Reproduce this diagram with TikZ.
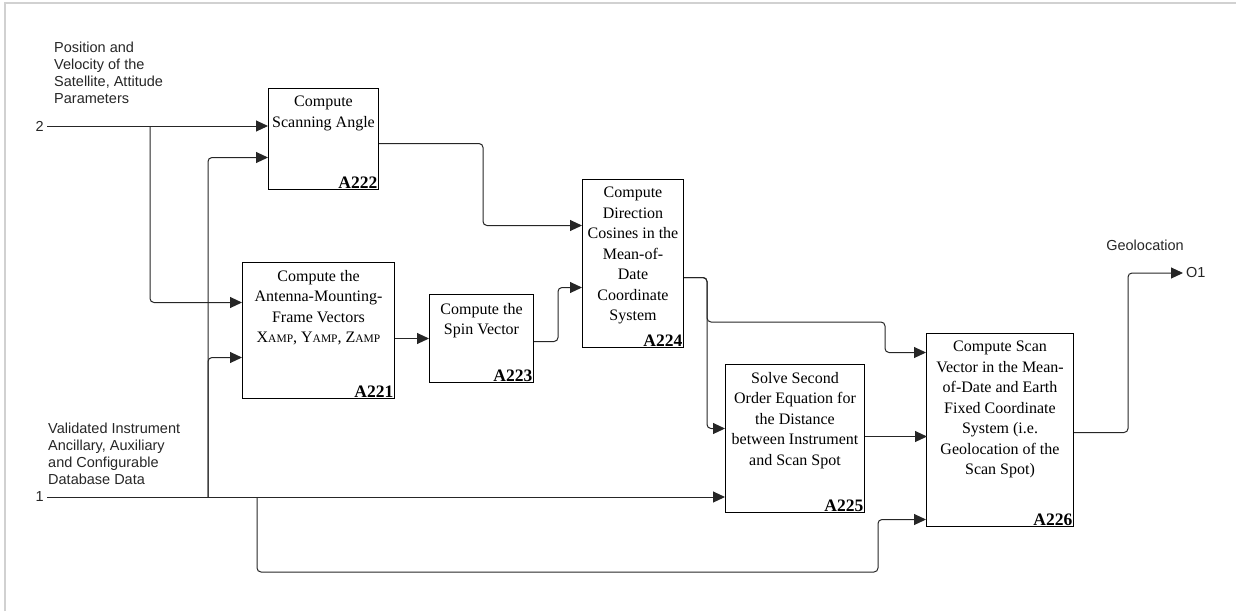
\documentclass[tikz,border=0pt]{standalone}
\usepackage{fontspec}
\setmainfont{Liberation Serif}
\newfontfamily\labelfont{Liberation Sans}
\usetikzlibrary{arrows.meta}
% small capitals for the frame vector subscripts
\newcommand\smallcapsamp[1]{{\fontsize{11.5}{11.5}\selectfont #1}}
\begin{document}
\begin{tikzpicture}[x=1pt,y=-1pt,
  box/.style={draw=black, line width=1pt, anchor=north west, inner sep=0pt},
  btext/.style={anchor=north, align=center, inner sep=0pt, font=\fontsize{16}{20.5}\selectfont},
  blabel/.style={anchor=south east, inner sep=1.5pt, font=\fontsize{17.5}{17.5}\selectfont\bfseries},
  side/.style={align=left, inner sep=0pt, anchor=north west, text=black!85, font=\labelfont\fontsize{14.5}{17}\selectfont},
  flow/.style={draw=black!85, line width=1pt, rounded corners=4pt, -{Triangle[length=12pt,width=11pt]}}
]
\useasboundingbox (0,0) rectangle (1236,611);
% page frame
\draw[black!18, line width=1.2pt] (5,611) -- (5,3) -- (1236,3);

% activity boxes
\node[box, minimum width=110pt, minimum height=101pt] (a222) at (268,88) {};
\node[box, minimum width=152pt, minimum height=136pt] (a221) at (242,262) {};
\node[box, minimum width=104pt, minimum height=88pt]  (a223) at (429,294) {};
\node[box, minimum width=101pt, minimum height=168pt] (a224) at (582,179) {};
\node[box, minimum width=139pt, minimum height=148pt] (a225) at (725,364) {};
\node[box, minimum width=147pt, minimum height=193pt] (a226) at (926,333) {};

% box texts
\node[btext] (a222t) at ([yshift=-8pt]a222.north) {Compute\\Scanning Angle};
\node[btext] (a221t) at ([yshift=-8pt]a221.north) {Compute the\\Antenna-Mounting-\\Frame Vectors\\X\smallcapsamp{AMP}, Y\smallcapsamp{AMP}, Z\smallcapsamp{AMP}};
\node[btext] (a223t) at ([yshift=-9pt]a223.north) {Compute the\\Spin Vector};
\node[btext] (a224t) at ([yshift=-8pt]a224.north) {Compute\\Direction\\Cosines in the\\Mean-of-\\Date\\Coordinate\\System};
\node[btext] (a225t) at ([yshift=-8pt]a225.north) {Solve Second\\Order Equation for\\the Distance\\between Instrument\\and Scan Spot};
\node[btext] (a226t) at ([yshift=-8pt]a226.north) {Compute Scan\\Vector in the Mean-\\of-Date and Earth\\Fixed Coordinate\\System (i.e.\\Geolocation of the\\Scan Spot)};

% box numbers
\node[blabel] (a222n) at (a222.south east) {A222};
\node[blabel] (a221n) at (a221.south east) {A221};
\node[blabel] (a223n) at (a223.south east) {A223};
\node[blabel] (a224n) at (a224.south east) {A224};
\node[blabel] (a225n) at (a225.south east) {A225};
\node[blabel] (a226n) at (a226.south east) {A226};

% inputs and output labels
\node[side] (lab2) at (54,42) {Position and\\Velocity of the\\Satellite, Attitude\\Parameters};
\node[side] (lab1) at (48,422.5) {Validated Instrument\\Ancillary, Auxiliary\\and Configurable\\Database Data};
\node[side, anchor=east] (in2) at (44,126) {2};
\node[side, anchor=east] (in1) at (44,497) {1};
\node[side, anchor=center] (geo) at (1145,245) {Geolocation};
\node[side, anchor=west] (o1) at (1186,273) {O1};

% branch points on the input lines
\coordinate (j2) at (150,126);
\coordinate (j1a) at (208,497);
\coordinate (j1b) at (257,497);
\coordinate (loopbend) at (878,572);
\coordinate (topbend) at (885,322);

% input 2
\draw[flow] ([xshift=3pt]in2.east) -- (in2 -| a222.west);
\draw[flow] (j2) |- ([yshift=28pt]a221.west);

% input 1
\draw[flow] ([xshift=3pt]in1.east) -- (in1 -| a225.west);
\draw[flow] (j1a) |- ([yshift=-18.5pt]a222.west);
\draw[flow] (j1a) |- ([yshift=-27pt]a221.west);
\draw[flow] (j1b) |- (loopbend) |- ([yshift=-89.5pt]a226.west);

% internal flows
\draw[flow] ([yshift=-4.5pt]a222.east) -- ++(104,0) |- ([yshift=38pt]a224.west);
\draw[flow] (a221.east |- a223) -- (a223.west);
\draw[flow] ([yshift=-3pt]a223.east) -- ++(24,0) |- ([yshift=-24pt]a224.west);
\draw[flow] ([yshift=-14pt]a224.east) -- ++(23,0) |- ([yshift=10pt]a225.west);
\draw[flow] ([yshift=-14pt]a224.east) -- ++(23,0) |- (topbend) |- ([yshift=77.5pt]a226.west);
\draw[flow] ([yshift=2pt]a225.east) -- ++(62,0);

% output
\draw[flow] ([yshift=-2.5pt]a226.east) -- ++(54,0) |- ([xshift=-3pt]o1.west);
\end{tikzpicture}
\end{document}
